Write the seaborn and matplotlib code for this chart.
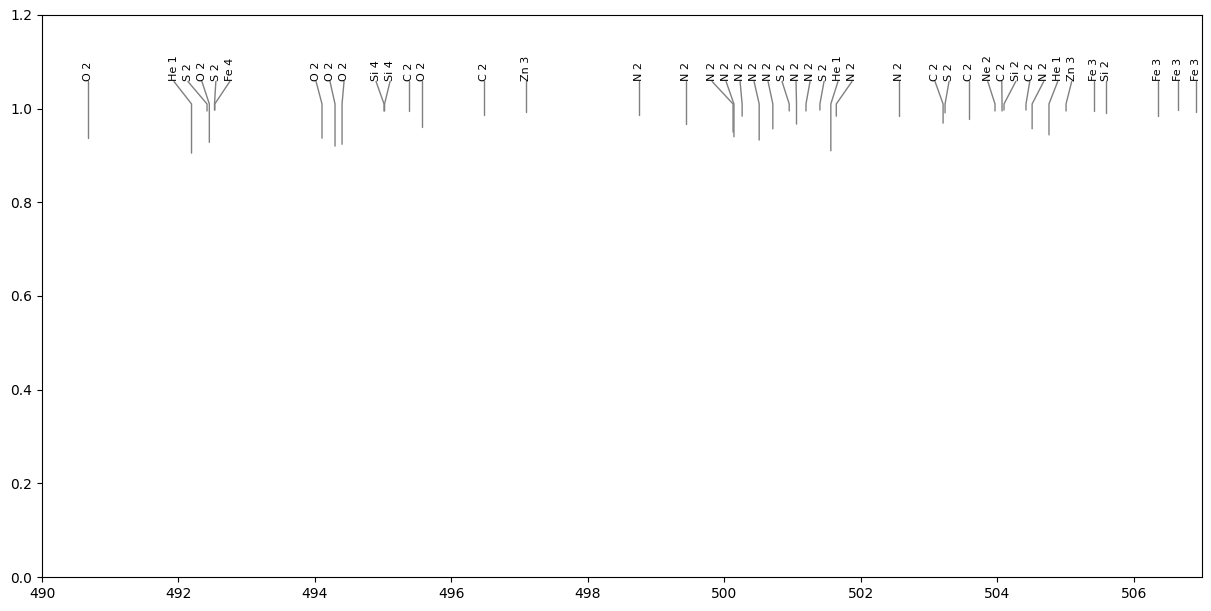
import numpy as np
import pandas as pd
import matplotlib
matplotlib.use("Agg")
import matplotlib.pyplot as plt
import seaborn as sns

# --- line identifications ---
line_names = ['O 2', 'He 1', 'S 2', 'O 2', 'S 2', 'Fe 4',
              'O 2', 'O 2', 'O 2', 'Si 4', 'Si 4', 'C 2', 'O 2',
              'C 2', 'Zn 3', 'N 2', 'N 2',
              'N 2', 'N 2', 'N 2', 'N 2', 'N 2', 'S 2', 'N 2', 'N 2', 'S 2', 'He 1', 'N 2',
              'N 2', 'C 2', 'S 2', 'C 2', 'Ne 2', 'C 2', 'Si 2', 'C 2', 'N 2', 'He 1', 'Zn 3',
              'Fe 3', 'Si 2', 'Fe 3', 'Fe 3', 'Fe 3']

# wavelength of each line (where the vertical marker sits)
line_wave = [490.674, 492.191, 492.418, 492.452, 492.528, 492.532,
             494.103, 494.294, 494.397, 495.012, 495.020, 495.378, 495.569,
             496.478, 497.090, 498.750, 499.438,
             500.127, 500.140, 500.260, 500.510, 500.710, 500.950, 501.057, 501.196, 501.400, 501.560, 501.640,
             502.560, 503.205, 503.234, 503.585, 503.966, 504.069, 504.098, 504.420, 504.510, 504.757, 505.007,
             505.417, 505.593, 506.355, 506.648, 506.912]

# flux level where each marker starts
line_flux = [0.937, 0.905, 0.995, 0.928, 0.997, 0.997,
             0.937, 0.920, 0.924, 0.995, 0.995, 0.995, 0.961,
             0.987, 0.992, 0.986, 0.967,
             0.950, 0.940, 0.984, 0.933, 0.957, 0.995, 0.967, 0.995, 0.997, 0.910, 0.984,
             0.985, 0.969, 0.991, 0.978, 0.995, 0.995, 0.997, 0.997, 0.957, 0.944, 0.995,
             0.995, 0.991, 0.984, 0.997, 0.993]

# x position of the labels (spread out to avoid overlap)
label_x = [490.674, 491.934, 492.138, 492.343, 492.547, 492.752,
           494.016, 494.220, 494.426, 494.895, 495.100, 495.378, 495.569,
           496.478, 497.090, 498.750, 499.438,
           499.820, 500.025, 500.230, 500.435, 500.640, 500.845, 501.050, 501.255, 501.460, 501.665, 501.870,
           502.560, 503.087, 503.292, 503.585, 503.860, 504.065, 504.270, 504.475, 504.680, 504.885, 505.090,
           505.417, 505.593, 506.355, 506.648, 506.912]

kink_y = 1.01
label_y = 1.058

# build the connector polylines: flux -> kink -> label
rows = []
for i, (w, f, lx) in enumerate(zip(line_wave, line_flux, label_x)):
    rows.append((i, 0, w, f))
    rows.append((i, 1, w, kink_y))
    rows.append((i, 2, lx, label_y))
df = pd.DataFrame(rows, columns=['id', 'step', 'wave', 'flux'])

sns.set_style("ticks", {"axes.edgecolor": "black", "xtick.color": "black",
                        "ytick.color": "black", "text.color": "black",
                        "axes.labelcolor": "black"})
plt.rcParams['font.family'] = ['DejaVu Sans']

fig = plt.figure(figsize=(12.11, 6.11), dpi=100)
ax = fig.add_axes([0.0347, 0.0556, 0.9579, 0.9199])

sns.lineplot(data=df, x='wave', y='flux', units='id', estimator=None, sort=False,
             color='gray', linewidth=1, ax=ax, legend=False)

for name, lx in zip(line_names, label_x):
    ax.text(lx, label_y + 0.002, name, rotation=90, ha='center', va='bottom', fontsize=8)

ax.set_xlim(490, 507)
ax.set_ylim(0, 1.2)
ax.set_xlabel('')
ax.set_ylabel('')
ax.set_xticks(np.arange(490, 507, 2))

fig.savefig('out.png', dpi=100)
